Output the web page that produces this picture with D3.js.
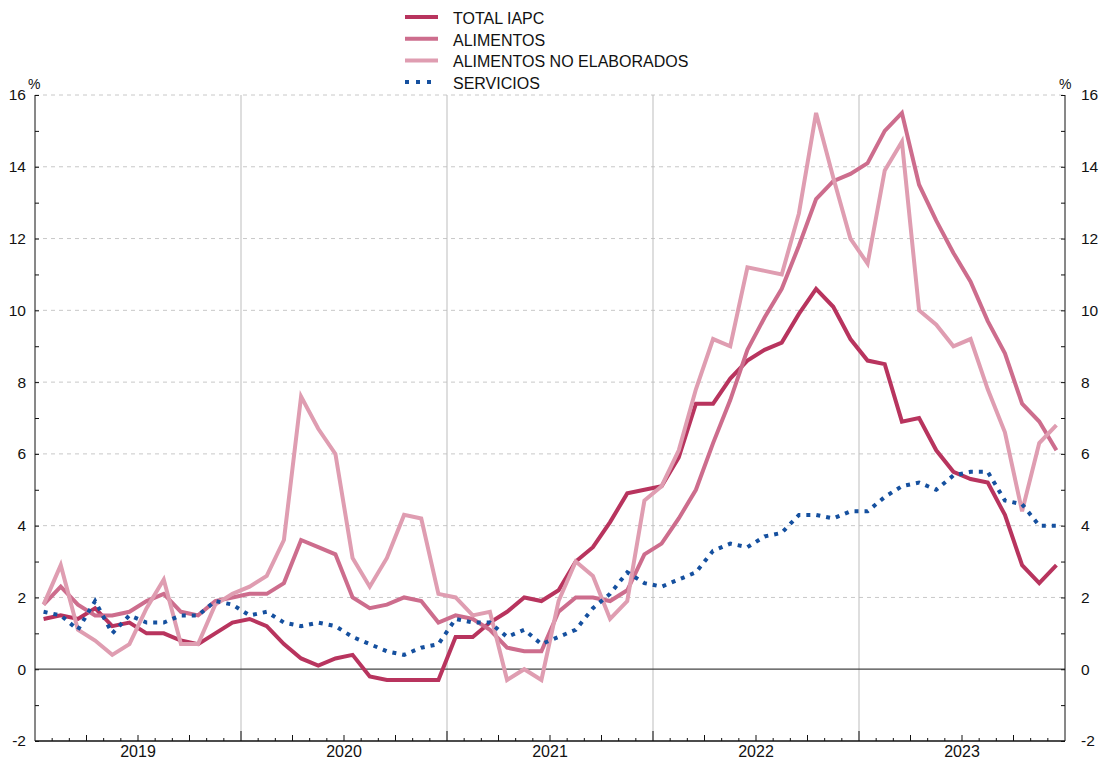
<!DOCTYPE html>
<html>
<head>
<meta charset="utf-8">
<script src="https://cdn.jsdelivr.net/npm/d3@7"></script>
<style>
  body { margin: 0; background: #fff; }
  svg text { font-family: "Liberation Sans", Arial, Helvetica, sans-serif; fill: #111; }
</style>
</head>
<body>
<svg id="chart" width="1103" height="760"></svg>
<script>
// años (eje X), una observación mensual por serie
const years = ["2019", "2020", "2021", "2022", "2023"];
const yTicks = [-2, 0, 2, 4, 6, 8, 10, 12, 14, 16];

const totalIapc = [
  1.4, 1.5, 1.4, 1.7, 1.2, 1.3, 1.0, 1.0, 0.8, 0.7, 1.0, 1.3,
  1.4, 1.2, 0.7, 0.3, 0.1, 0.3, 0.4, -0.2, -0.3, -0.3, -0.3, -0.3,
  0.9, 0.9, 1.3, 1.6, 2.0, 1.9, 2.2, 3.0, 3.4, 4.1, 4.9, 5.0,
  5.1, 5.9, 7.4, 7.4, 8.1, 8.6, 8.9, 9.1, 9.9, 10.6, 10.1, 9.2,
  8.6, 8.5, 6.9, 7.0, 6.1, 5.5, 5.3, 5.2, 4.3, 2.9, 2.4, 2.9
];
const alimentos = [
  1.8, 2.3, 1.8, 1.5, 1.5, 1.6, 1.9, 2.1, 1.6, 1.5, 1.9, 2.0,
  2.1, 2.1, 2.4, 3.6, 3.4, 3.2, 2.0, 1.7, 1.8, 2.0, 1.9, 1.3,
  1.5, 1.4, 1.1, 0.6, 0.5, 0.5, 1.6, 2.0, 2.0, 1.9, 2.2, 3.2,
  3.5, 4.2, 5.0, 6.3, 7.5, 8.9, 9.8, 10.6, 11.8, 13.1, 13.6, 13.8,
  14.1, 15.0, 15.5, 13.5, 12.5, 11.6, 10.8, 9.7, 8.8, 7.4, 6.9, 6.1
];
const alimentosNoElaborados = [
  1.8, 2.9, 1.1, 0.8, 0.4, 0.7, 1.7, 2.5, 0.7, 0.7, 1.8, 2.1,
  2.3, 2.6, 3.6, 7.6, 6.7, 6.0, 3.1, 2.3, 3.1, 4.3, 4.2, 2.1,
  2.0, 1.5, 1.6, -0.3, 0.0, -0.3, 1.9, 3.0, 2.6, 1.4, 1.9, 4.7,
  5.1, 6.1, 7.8, 9.2, 9.0, 11.2, 11.1, 11.0, 12.7, 15.5, 13.7, 12.0,
  11.3, 13.9, 14.7, 10.0, 9.6, 9.0, 9.2, 7.8, 6.6, 4.4, 6.3, 6.8
];
const servicios = [
  1.6, 1.5, 1.1, 1.9, 1.0, 1.5, 1.3, 1.3, 1.5, 1.5, 1.9, 1.8,
  1.5, 1.6, 1.3, 1.2, 1.3, 1.2, 0.9, 0.7, 0.5, 0.4, 0.6, 0.7,
  1.4, 1.3, 1.3, 0.9, 1.1, 0.7, 0.9, 1.1, 1.7, 2.1, 2.7, 2.4,
  2.3, 2.5, 2.7, 3.3, 3.5, 3.4, 3.7, 3.8, 4.3, 4.3, 4.2, 4.4,
  4.4, 4.8, 5.1, 5.2, 5.0, 5.4, 5.5, 5.5, 4.7, 4.6, 4.0, 4.0
];

const series = [
  { name: "TOTAL IAPC", values: totalIapc, color: "#b8345e", dash: null },
  { name: "ALIMENTOS", values: alimentos, color: "#cd6d8d", dash: null },
  { name: "ALIMENTOS NO ELABORADOS", values: alimentosNoElaborados, color: "#df9db1", dash: null },
  { name: "SERVICIOS", values: servicios, color: "#15509f", dash: "4,6" }
];

const svg = d3.select("#chart");
const mLeft = 35, mRight = 1065, mTop = 95, mBottom = 741;
const nMonths = years.length * 12;

const x = d3.scaleLinear().domain([0, nMonths]).range([mLeft, mRight]);
const y = d3.scaleLinear().domain([-2, 16]).range([mBottom, mTop]);

// rejilla horizontal discontinua
svg.append("g")
  .selectAll("line")
  .data(yTicks.filter(d => d !== 0 && d !== -2))
  .join("line")
  .attr("x1", mLeft).attr("x2", mRight)
  .attr("y1", d => y(d)).attr("y2", d => y(d))
  .attr("stroke", "#c8c8c8")
  .attr("stroke-width", 1)
  .attr("stroke-dasharray", "4,4");

// separadores de año
svg.append("g")
  .selectAll("line")
  .data(d3.range(1, years.length))
  .join("line")
  .attr("x1", d => x(d * 12)).attr("x2", d => x(d * 12))
  .attr("y1", mTop).attr("y2", mBottom)
  .attr("stroke", "#bdbdbd")
  .attr("stroke-width", 1);

// línea del cero
svg.append("line")
  .attr("x1", mLeft).attr("x2", mRight)
  .attr("y1", y(0)).attr("y2", y(0))
  .attr("stroke", "#444")
  .attr("stroke-width", 1.3);

// series
const line = d3.line()
  .x((d, i) => x(i + 0.5))
  .y(d => y(d));

svg.append("g")
  .selectAll("path")
  .data(series)
  .join("path")
  .attr("d", d => line(d.values))
  .attr("fill", "none")
  .attr("stroke", d => d.color)
  .attr("stroke-width", 4)
  .attr("stroke-linejoin", "miter")
  .attr("stroke-dasharray", d => d.dash);

// ejes
const axisLeft = d3.axisLeft(y).tickValues(d3.range(-2, 17, 1)).tickSize(-4)
  .tickFormat(d => d % 2 === 0 ? d : "").tickPadding(9);
const axisRight = d3.axisRight(y).tickValues(d3.range(-2, 17, 1)).tickSize(-4)
  .tickFormat(d => d % 2 === 0 ? d : "").tickPadding(16);

svg.append("g")
  .attr("transform", `translate(${mLeft},0)`)
  .call(axisLeft)
  .call(g => g.select(".domain").attr("d", `M0,${mTop}V${mBottom}`).attr("stroke", "#111"))
  .call(g => g.selectAll("line").attr("stroke", "#111"))
  .call(g => g.selectAll("text").style("font-size", "15.5px").attr("fill", "#111"));

svg.append("g")
  .attr("transform", `translate(${mRight},0)`)
  .call(axisRight)
  .call(g => g.select(".domain").attr("d", `M0,${mTop}V${mBottom}`).attr("stroke", "#111"))
  .call(g => g.selectAll("line").attr("stroke", "#111"))
  .call(g => g.selectAll("text").style("font-size", "15.5px").attr("fill", "#111"));

// eje inferior con marcas mensuales, trimestrales y anuales
svg.append("line")
  .attr("x1", mLeft).attr("x2", mRight)
  .attr("y1", mBottom).attr("y2", mBottom)
  .attr("stroke", "#111").attr("stroke-width", 1.5);

svg.append("g")
  .selectAll("line")
  .data(d3.range(1, nMonths))
  .join("line")
  .attr("x1", d => x(d)).attr("x2", d => x(d))
  .attr("y1", mBottom)
  .attr("y2", d => mBottom - (d % 12 === 0 ? 10 : d % 3 === 0 ? 6 : 3))
  .attr("stroke", "#111")
  .attr("stroke-width", 1);

svg.append("g")
  .selectAll("text")
  .data(years)
  .join("text")
  .attr("x", (d, i) => x(i * 12 + 6))
  .attr("y", 757)
  .attr("text-anchor", "middle")
  .style("font-size", "16px")
  .text(d => d);

// unidades
svg.append("text").attr("x", 28).attr("y", 89).style("font-size", "14px").text("%");
svg.append("text").attr("x", 1059).attr("y", 89).style("font-size", "14px").text("%");

// leyenda
const legend = svg.append("g").attr("transform", "translate(405,17)");
const rows = legend.selectAll("g")
  .data(series)
  .join("g")
  .attr("transform", (d, i) => `translate(0,${i * 21.7})`);

rows.append("line")
  .attr("x1", 0).attr("x2", d => d.dash ? 30 : 33)
  .attr("y1", 0).attr("y2", 0)
  .attr("stroke", d => d.color)
  .attr("stroke-width", 4)
  .attr("stroke-dasharray", d => d.dash ? "4,7" : null);

rows.append("text")
  .attr("x", 48)
  .attr("y", 7)
  .style("font-size", "16px")
  .text(d => d.name);
</script>
</body>
</html>
